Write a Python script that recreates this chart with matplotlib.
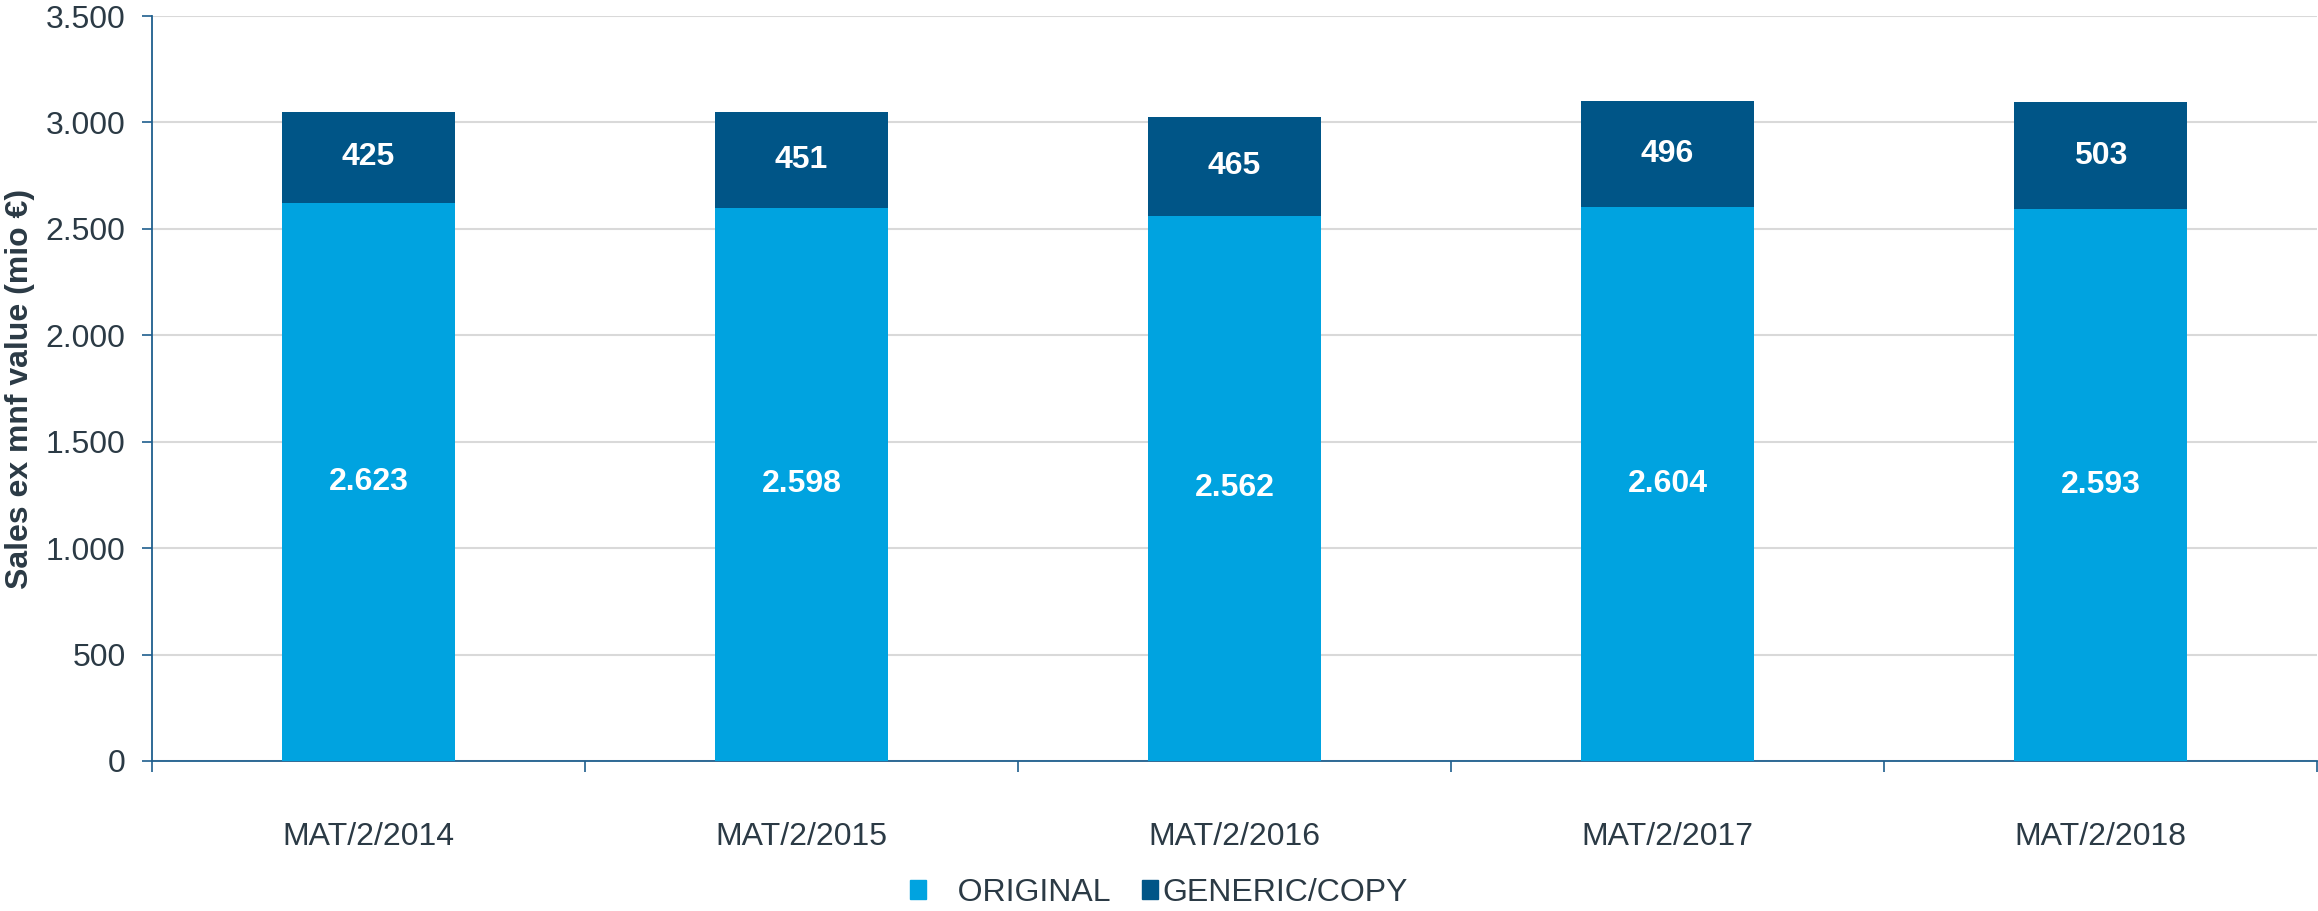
import matplotlib.pyplot as plt
from matplotlib.patches import Patch
from matplotlib.ticker import FuncFormatter, FixedLocator

plt.rcParams['font.family'] = ['Liberation Sans', 'DejaVu Sans']

periods = ['MAT/2/2014', 'MAT/2/2015', 'MAT/2/2016', 'MAT/2/2017', 'MAT/2/2018']
original = [2623, 2598, 2562, 2604, 2593]
generic = [425, 451, 465, 496, 503]

c_orig = '#00A3E0'
c_gen = '#005587'
c_text = '#2B3A45'
c_axis = '#1F5F8E'

fig = plt.figure(figsize=(23.18, 9.11), dpi=100)
ax = fig.add_axes([0.0656, 0.1647, 0.9340, 0.8177])

x = list(range(len(periods)))
w = 0.4
ax.bar(x, original, width=w, color=c_orig, zorder=3)
ax.bar(x, generic, width=w, bottom=original, color=c_gen, zorder=3)

def fmt(v):
    return f'{int(v):,}'.replace(',', '.')

for i in x:
    ax.text(i, original[i] / 2, fmt(original[i]), ha='center', va='center',
            color='white', fontsize=23, fontweight='bold', zorder=4)
    ax.text(i, original[i] + generic[i] / 2, fmt(generic[i]), ha='center', va='center',
            color='white', fontsize=23, fontweight='bold', zorder=4)

ax.set_xlim(-0.5, len(periods) - 0.5)
ax.set_ylim(0, 3500)
ax.set_yticks(range(0, 3501, 500))
ax.yaxis.set_major_formatter(FuncFormatter(lambda v, p: fmt(v)))
ax.grid(axis='y', color='#D9D9D9', linewidth=1.5, zorder=0)

ax.set_xticks(x)
ax.set_xticklabels(periods)
ax.xaxis.set_minor_locator(FixedLocator([i - 0.5 for i in range(len(periods) + 1)]))
ax.tick_params(axis='x', which='major', length=0, pad=44, labelsize=23, labelcolor=c_text)
ax.tick_params(axis='x', which='minor', length=8, width=1.2, color=c_axis)
ax.tick_params(axis='y', length=7, width=1.2, color=c_axis, pad=12, labelsize=23, labelcolor=c_text)

for s in ['top', 'right']:
    ax.spines[s].set_visible(False)
for s in ['left', 'bottom']:
    ax.spines[s].set_color(c_axis)
    ax.spines[s].set_linewidth(1.3)

ax.set_ylabel('Sales ex mnf value (mio €)', fontsize=23, fontweight='bold', color=c_text, labelpad=8)

handles = [Patch(color=c_orig, label='   ORIGINAL'), Patch(color=c_gen, label='GENERIC/COPY')]
fig.legend(handles=handles, loc='center', bbox_to_anchor=(0.5, 0.02), ncol=2, frameon=False,
           fontsize=23, handlelength=0.5, handleheight=0.5, handletextpad=0.15,
           columnspacing=1.0, labelcolor=c_text)

fig.savefig('out.png', dpi=100)
